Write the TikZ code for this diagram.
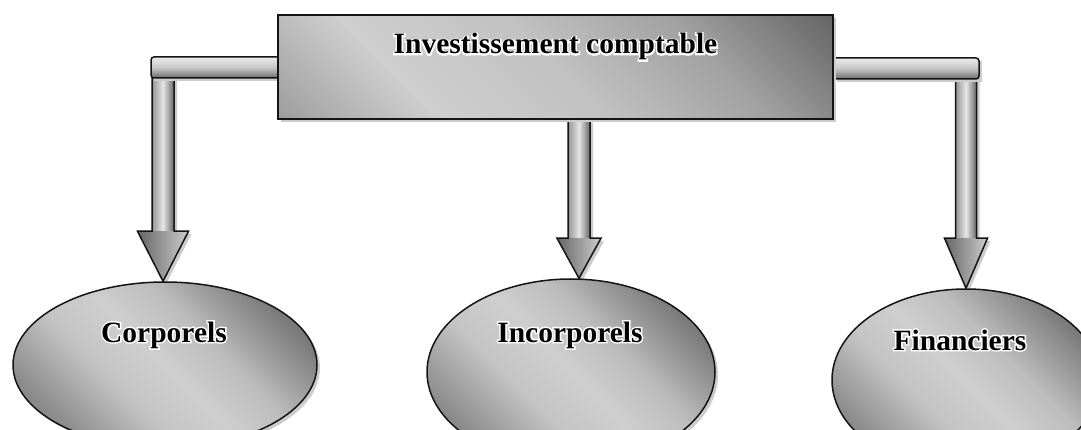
\documentclass[tikz,border=0pt]{standalone}
\usepackage{fontspec}
\setmainfont{Liberation Serif}
\newfontfamily\halofont{Liberation Serif Bold}[FakeBold=10]
\usetikzlibrary{shapes.geometric,calc,shadows}

\pgfdeclarelayer{back}
\pgfsetlayers{back,main}

% diagonal fill of the title box: dark towards the top right corner
\pgfdeclareverticalshading{boxgrad}{100bp}{%
  color(0bp)=(black!42); color(15bp)=(black!38); color(32bp)=(black!19);
  color(50bp)=(black!24); color(68bp)=(black!37); color(85bp)=(black!60); color(100bp)=(black!62)}

% diagonal fill of the ovals: light band through the middle
\pgfdeclareverticalshading{ovalgrad}{100bp}{%
  color(0bp)=(black!50); color(25bp)=(black!46); color(40bp)=(black!23);
  color(50bp)=(black!19); color(60bp)=(black!26); color(75bp)=(black!52); color(100bp)=(black!54)}

% bold lettering with a white glow behind it
\newcommand\glow[1]{\leavevmode\rlap{\halofont\color{white}#1}{\bfseries#1}}

% shaded block arrow going down from (#1top) to (#1tip)
% #2 shaft half-width, #3 head half-width, #4 head length
\newcommand\downblock[4]{%
  \coordinate (#1head) at ($(#1tip)+(0,-#4)$);
  \fill[shadowfill,transform canvas={xshift=3pt,yshift=-3pt}]
    ($(#1top)+(-#2,0)$) -- ($(#1head)+(-#2,0)$) -- ($(#1head)+(-#3,0)$) -- (#1tip)
    -- ($(#1head)+(#3,0)$) -- ($(#1head)+(#2,0)$) -- ($(#1top)+(#2,0)$) -- cycle;
  \path[shaftshade] ($(#1top)+(-#2,-3)$) rectangle ($(#1head)+(#2,2)$);
  \path[headshade] ($(#1head)+(-#3,0)$) -- (#1tip) -- ($(#1head)+(#3,0)$) -- cycle;
  \draw[outline]
    ($(#1top)+(-#2,0)$) -- ($(#1head)+(-#2,0)$) -- ($(#1head)+(-#3,0)$) -- (#1tip)
    -- ($(#1head)+(#3,0)$) -- ($(#1head)+(#2,0)$) -- ($(#1top)+(#2,0)$);
}

\tikzset{
  outline/.style={draw=black!92, line width=1.5pt, line join=miter},
  shadowfill/.style={fill=black!20},
  castshadow/.style={drop shadow={shadow xshift=3pt, shadow yshift=-3pt, fill=black!20, opacity=1}},
  titlebox/.style={rectangle, outline, castshadow, shade, shading=boxgrad, shading angle=-45, inner sep=0pt},
  oval/.style={ellipse, outline, castshadow, shade, shading=ovalgrad, shading angle=-45, inner sep=0pt},
  lbl/.style={font=\fontsize{29.5}{34}\selectfont, anchor=base, inner sep=0pt},
  shaftshade/.style={left color=black!42, right color=black!60, middle color=black!10},
  headshade/.style={left color=black!60, right color=black!20},
  barshade/.style={top color=black!8, bottom color=black!58, middle color=black!22},
}

\begin{document}
\begin{tikzpicture}[x=1pt,y=-1pt]
\useasboundingbox (0,0) rectangle (1081,430);

% boxes
\node[titlebox, minimum width=555pt, minimum height=104pt] (inv) at (555.5,67) {};
\node[oval, minimum width=304pt, minimum height=166pt] (corp) at (165,365) {};
\node[oval, minimum width=288pt, minimum height=186pt] (inc) at (571,372) {};
\node[oval, minimum width=268pt, minimum height=182pt] (fin) at (966,380) {};

% labels
\node[lbl] (invl) at (555.5,54) {\glow{Investissement comptable}};
\node[lbl] (corpl) at (164,342) {\glow{Corporels}};
\node[lbl] (incl) at (570,342) {\glow{Incorporels}};
\node[lbl] (finl) at (960,350) {\glow{Financiers}};

\begin{pgfonlayer}{back}
  % left branch
  \coordinate (Ltip) at ($(corp.north)+(-2,0)$);
  \coordinate (Ltop) at (Ltip |- 0,78);
  \coordinate (Lend) at (151,57);
  \downblock{L}{11}{25.5}{50}
  \fill[shadowfill,transform canvas={xshift=3pt,yshift=-3pt}]
    (inv.west |- Lend) -- (Lend) -- (Lend |- Ltop) -- (inv.west |- Ltop) -- cycle;
  \path[barshade, rounded corners=3pt]
    ($(inv.west |- Lend)+(3,0)$) -- (Lend) -- (Lend |- Ltop) -- ($(inv.west |- Ltop)+(3,0)$);
  \draw[outline, rounded corners=3pt]
    ($(inv.west |- Lend)+(2,0)$) -- (Lend) -- (Lend |- Ltop) -- ($(inv.west |- Ltop)+(2,0)$);

  % middle branch
  \coordinate (Mtip) at ($(inc.north)+(8,0)$);
  \coordinate (Mtop) at (Mtip |- inv.south);
  \downblock{M}{11}{22}{40}

  % right branch
  \coordinate (Rtip) at (fin.north);
  \coordinate (Rtop) at (Rtip |- 0,79);
  \coordinate (Rend) at (979,58);
  \downblock{R}{10.5}{21.5}{50}
  \fill[shadowfill,transform canvas={xshift=3pt,yshift=-3pt}]
    (inv.east |- Rend) -- (Rend) -- (Rend |- Rtop) -- (inv.east |- Rtop) -- cycle;
  \path[barshade, rounded corners=3pt]
    ($(inv.east |- Rend)+(-3,0)$) -- (Rend) -- (Rend |- Rtop) -- ($(inv.east |- Rtop)+(-3,0)$);
  \draw[outline, rounded corners=3pt]
    ($(inv.east |- Rend)+(-2,0)$) -- (Rend) -- (Rend |- Rtop) -- ($(inv.east |- Rtop)+(-2,0)$);
\end{pgfonlayer}
\end{tikzpicture}
\end{document}
